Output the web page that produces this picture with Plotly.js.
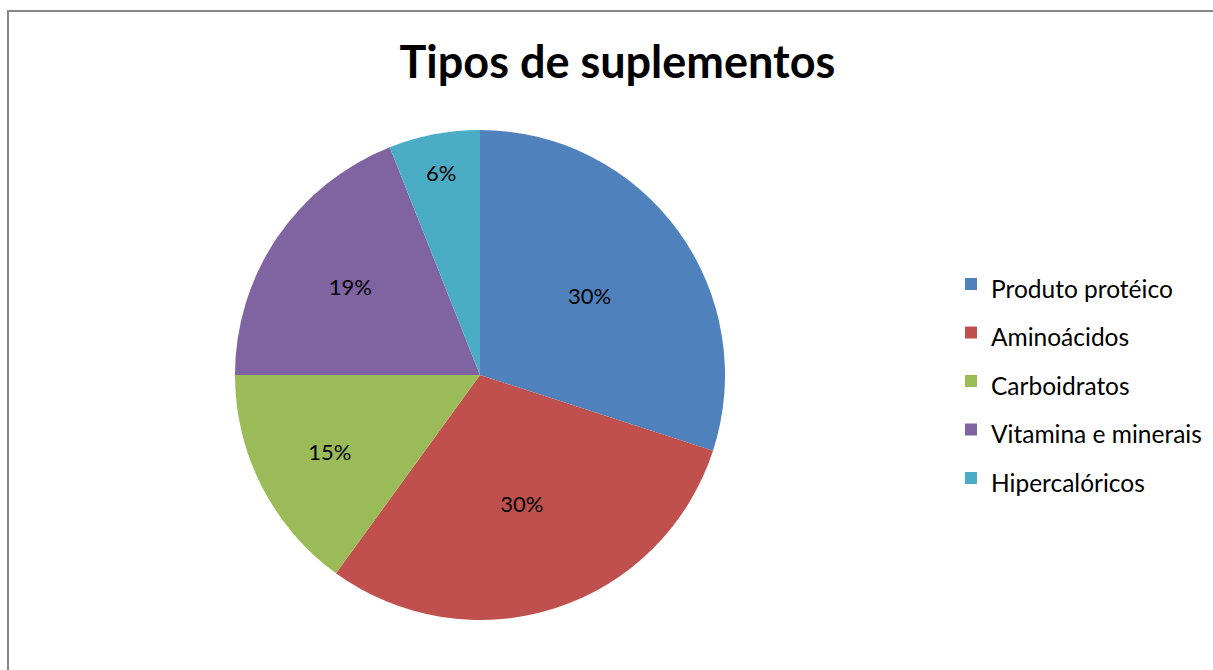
<!DOCTYPE html>
<html>
<head>
<meta charset="utf-8">
<script src="https://cdn.plot.ly/plotly-3.0.1.min.js"></script>
<style>
  html, body { margin: 0; padding: 0; background: #fff; overflow: hidden; }
  #frame { position: absolute; left: 7px; top: 10px; width: 1300px; height: 800px;
           border-top: 2px solid #868686; border-left: 2px solid #868686; }
  #chart { position: absolute; left: 0; top: 0; width: 1213px; height: 670px; }
</style>
</head>
<body>
<div id="frame"></div>
<div id="chart"></div>
<script>
const categories = ["Produto protéico", "Aminoácidos", "Carboidratos", "Vitamina e minerais", "Hipercalóricos"];
const values = [30, 30, 15, 19, 6];
const colors = ["#4F81BD", "#C0504D", "#9BBB59", "#8064A2", "#4BACC6"];
const chartTitle = "Tipos de suplementos";

const font = "Lato, 'Open Sans', 'Liberation Sans', sans-serif";

// legend labels drawn at a readable size inside a taller legend row
const legendLabels = categories.map(c => '<span style="font-size:24.5px">' + c + '</span>');

const data = [{
  type: "pie",
  labels: legendLabels,
  values: values,
  sort: false,
  direction: "clockwise",
  rotation: 0,
  marker: { colors: colors, line: { width: 0 } },
  textinfo: "percent",
  texttemplate: "%{percent:.0%}",
  textposition: "inside",
  insidetextorientation: "horizontal",
  textfont: { family: font, size: 22, color: "#000" },
  domain: { x: [0.1937, 0.5977], y: [0.0746, 0.806] },
  hovertext: categories,
  hoverinfo: "text+value+percent"
}];

const layout = {
  width: 1213, height: 670,
  margin: { l: 0, r: 0, t: 0, b: 0 },
  paper_bgcolor: "rgba(0,0,0,0)",
  plot_bgcolor: "rgba(0,0,0,0)",
  title: {
    text: "<b>" + chartTitle + "</b>",
    font: { family: font, size: 45, color: "#000" },
    x: 0.509, xanchor: "center",
    y: 0.907, yanchor: "middle", yref: "container"
  },
  showlegend: true,
  legend: {
    x: 0.784, xanchor: "left",
    y: 0.431, yanchor: "middle",
    font: { family: font, size: 35, color: "#000" },
    bgcolor: "rgba(0,0,0,0)"
  }
};

Plotly.newPlot("chart", data, layout, { displayModeBar: false, staticPlot: true });
</script>
</body>
</html>
